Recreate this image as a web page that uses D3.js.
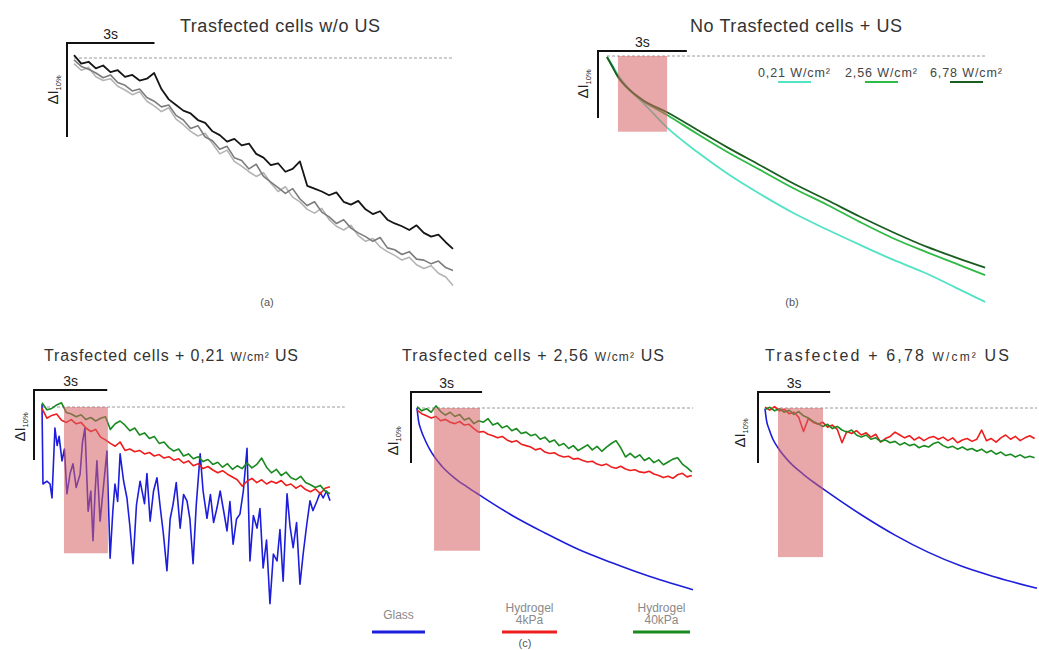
<!DOCTYPE html>
<html><head><meta charset="utf-8">
<script src="https://cdn.jsdelivr.net/npm/d3@7"></script>
<style>body{margin:0;background:#fff}svg{display:block}</style>
</head><body>
<svg id="fig" width="1039" height="650"></svg>
<script>
// ---- data: time in s, ΔI in % (0 = dashed baseline) ----
// (a) transfected cells without US, sampled every 0.25 s
var aStep=0.25;
var aBlack=[0.3,-0.6,-0.4,-1.1,-0.8,-1.5,-1.3,-2.0,-1.8,-2.4,-2.2,-1.6,-3.3,-4.4,-5.0,-5.6,-5.9,-6.6,-6.9,-7.8,-8.2,-8.9,-8.6,-9.3,-9.1,-10.2,-10.6,-11.4,-11.2,-12.1,-11.8,-11.0,-13.6,-13.9,-14.2,-14.6,-14.3,-15.3,-15.6,-15.2,-16.1,-16.6,-16.3,-17.2,-17.6,-17.9,-18.3,-17.8,-18.6,-19.0,-18.8,-19.6,-20.3];
var aGrey=[-0.2,-0.9,-1.2,-1.6,-2.1,-1.8,-2.6,-2.9,-3.5,-3.3,-4.2,-4.6,-5.2,-5.0,-6.1,-6.6,-7.5,-7.2,-8.4,-8.8,-9.7,-9.4,-10.6,-10.9,-11.8,-11.3,-12.6,-13.2,-13.8,-14.4,-13.9,-15.0,-15.7,-15.3,-16.4,-16.9,-17.6,-17.2,-18.1,-18.6,-19.0,-19.5,-19.1,-20.2,-20.4,-20.9,-20.6,-21.4,-21.5,-21.9,-21.6,-22.3,-22.6];
var aLight=[-0.6,-1.3,-1.0,-2.0,-2.4,-2.2,-3.0,-3.4,-3.9,-3.6,-4.6,-5.1,-5.7,-5.3,-6.5,-7.1,-7.8,-8.3,-8.0,-9.1,-10.2,-9.8,-11.0,-11.5,-12.1,-12.6,-12.2,-13.3,-14.2,-13.7,-14.8,-15.3,-16.1,-16.5,-16.0,-17.2,-17.9,-18.3,-17.8,-18.9,-19.5,-19.2,-20.1,-20.6,-21.0,-21.5,-21.2,-22.0,-22.4,-22.1,-22.9,-23.3,-24.2];

// (b) non-transfected cells + US, [t, ΔI]
var bIntensity=['0,21','2,56','6,78'];
var b021=[[0,-0.15],[0.17,-1.3],[0.37,-2.8],[0.78,-5.1],[1.22,-7.0],[2.03,-10.7],[3.04,-14.3],[4.05,-17.5],[5.17,-20.6],[6.28,-23.4],[7.43,-25.9],[8.55,-28.2],[9.66,-30.4],[10.81,-32.5],[11.79,-34.6],[12.77,-36.7]];
var b256=[[0,-0.15],[0.17,-1.5],[0.37,-3.1],[0.78,-5.2],[1.22,-6.7],[2.03,-8.8],[3.04,-11.6],[4.05,-14.3],[5.17,-17.0],[6.28,-19.7],[7.43,-22.2],[8.55,-24.8],[9.66,-27.2],[10.81,-29.3],[11.79,-31.0],[12.77,-32.7]];
var b678=[[0,-0.15],[0.17,-1.5],[0.37,-3.1],[0.78,-5.1],[1.22,-6.6],[2.03,-8.4],[3.04,-11.0],[4.05,-13.6],[5.17,-16.3],[6.28,-19.0],[7.43,-21.5],[8.55,-24.0],[9.66,-26.3],[10.81,-28.5],[11.79,-30.1],[12.77,-31.6]];

// (c) substrates
var cSubstrate=['Glass','Hydrogel|4kPa','Hydrogel|40kPa'];
var cStep=0.2;
var c1Glass=[[0,0.4],[0.04,-11.0],[0.2,-10.6],[0.33,-11.0],[0.41,-13.0],[0.53,-3.0],[0.62,-5.5],[0.7,-4.2],[0.82,-7.7],[0.92,-6.0],[1.02,-12.4],[1.15,-9.5],[1.27,-8.1],[1.4,-11.5],[1.56,-9.6],[1.66,-5.0],[1.76,-3.0],[1.89,-14.9],[2.0,-12.0],[2.09,-19.1],[2.17,-12.5],[2.25,-7.7],[2.38,-16.3],[2.5,-12.0],[2.66,-6.3],[2.79,-21.6],[2.9,-15.0],[2.99,-11.0],[3.1,-13.5],[3.2,-6.7],[3.34,-10.5],[3.48,-13.0],[3.6,-17.0],[3.73,-22.4],[3.87,-14.0],[4.02,-10.6],[4.2,-13.8],[4.3,-9.5],[4.43,-16.3],[4.57,-12.0],[4.71,-10.1],[4.85,-14.5],[4.97,-18.0],[5.12,-23.4],[5.25,-16.0],[5.37,-13.9],[5.5,-10.8],[5.66,-17.3],[5.8,-12.5],[5.94,-13.4],[6.06,-16.0],[6.19,-22.4],[6.32,-14.0],[6.48,-6.7],[6.6,-12.0],[6.76,-15.9],[6.9,-12.5],[7.03,-16.5],[7.17,-14.4],[7.3,-12.0],[7.45,-15.0],[7.58,-17.7],[7.7,-13.5],[7.83,-19.6],[7.97,-16.0],[8.11,-15.3],[8.25,-12.0],[8.4,-5.9],[8.52,-22.0],[8.66,-15.5],[8.81,-17.3],[8.93,-14.5],[9.06,-23.0],[9.2,-19.0],[9.34,-28.1],[9.48,-21.0],[9.63,-22.0],[9.75,-17.5],[9.88,-24.9],[10.04,-12.4],[10.16,-17.0],[10.29,-20.1],[10.43,-16.5],[10.57,-25.3],[10.7,-21.0],[10.84,-17.0],[10.98,-13.4],[11.1,-14.8],[11.27,-13.4],[11.4,-12.2],[11.52,-13.0],[11.66,-12.0],[11.8,-13.4]];
var c1Gel4=[-0.2,-1.6,-1.2,-1.0,-1.9,-2.2,-1.8,-2.4,-2.2,-3.0,-3.5,-3.2,-4.3,-4.7,-5.2,-5.6,-5.0,-6.2,-6.0,-6.4,-6.2,-6.7,-6.5,-7.0,-6.8,-7.3,-7.1,-7.6,-7.4,-8.0,-7.7,-8.4,-8.1,-8.8,-8.5,-9.0,-9.4,-9.1,-9.6,-10.0,-10.4,-11.3,-10.6,-10.2,-10.8,-10.4,-11.0,-10.6,-10.9,-10.5,-11.2,-11.0,-11.6,-11.2,-11.8,-12.1,-11.7,-12.4,-11.6,-11.4];
var c1Gel40=[0.6,-0.4,-0.2,0.3,0.6,-0.8,-1.0,-1.4,-1.1,-1.8,-1.5,-2.0,-1.6,-1.4,-3.2,-2.4,-2.0,-2.6,-3.4,-3.0,-4.0,-3.7,-4.5,-4.2,-5.2,-5.0,-5.8,-6.3,-6.0,-7.0,-6.7,-7.4,-7.1,-7.8,-7.5,-8.2,-7.9,-8.6,-8.1,-8.9,-8.4,-8.8,-8.0,-8.7,-8.2,-7.3,-8.6,-9.4,-8.9,-9.8,-9.3,-10.1,-10.4,-9.9,-10.8,-11.1,-11.5,-11.2,-12.0,-12.4];

var c2Glass=[[0,0],[0.06,-1.7],[0.17,-3.1],[0.34,-4.5],[0.55,-5.9],[1.05,-8.2],[1.6,-9.9],[2.11,-11.1],[2.66,-12.3],[4.0,-15.1],[5.4,-17.6],[6.8,-19.9],[8.23,-21.8],[9.62,-23.5],[11.65,-25.6]];
var c2Gel4=[-0.3,-0.8,-1.1,-1.4,-1.2,-1.8,-1.6,-2.0,-2.2,-1.9,-2.4,-2.3,-2.9,-3.4,-3.3,-3.7,-3.9,-4.2,-4.0,-4.5,-4.8,-4.6,-5.1,-5.3,-5.5,-5.9,-5.7,-6.2,-6.4,-6.3,-6.7,-6.9,-6.8,-7.2,-7.1,-7.4,-7.6,-7.5,-7.9,-8.1,-7.9,-8.3,-8.5,-8.2,-8.6,-8.8,-8.7,-9.0,-9.1,-8.9,-9.3,-9.5,-9.8,-9.6,-9.9,-9.4,-9.2,-9.7,-9.5];
var c2Gel40=[0.2,-0.4,-0.1,-0.6,0.3,-0.5,-1.0,-0.6,-1.2,-0.9,-1.7,-1.4,-2.2,-1.8,-2.0,-1.5,-2.4,-2.1,-2.8,-2.5,-3.2,-2.9,-3.6,-3.4,-3.9,-3.7,-4.4,-4.1,-4.8,-4.5,-5.3,-5.0,-5.7,-5.3,-6.0,-5.6,-5.2,-5.9,-5.4,-6.1,-5.5,-5.0,-4.6,-5.6,-6.9,-6.4,-7.0,-6.6,-7.4,-7.0,-7.7,-7.3,-8.0,-7.6,-7.2,-7.0,-7.9,-8.4,-9.0];

var c3Glass=[[0,-0.1],[0.06,-1.7],[0.17,-3.0],[0.33,-4.4],[0.54,-5.6],[1.04,-7.7],[1.58,-9.3],[2.08,-10.6],[2.41,-11.4],[4.03,-15.1],[5.4,-17.9],[6.77,-20.3],[8.18,-22.3],[9.56,-23.8],[11.3,-25.4]];
var c3Gel4=[0.1,-0.3,0.2,-0.4,-0.2,-0.8,-0.6,-1.3,-3.3,-1.5,-2.0,-2.3,-2.0,-2.7,-2.4,-3.0,-4.9,-3.3,-3.6,-3.2,-3.8,-3.5,-4.1,-3.7,-4.8,-4.3,-4.0,-3.4,-3.8,-4.2,-3.9,-4.5,-4.1,-4.6,-4.2,-4.0,-4.4,-4.1,-4.6,-4.2,-4.9,-4.5,-4.3,-4.7,-4.4,-3.1,-4.6,-4.3,-4.8,-4.2,-3.8,-4.4,-4.0,-4.6,-4.2,-3.9,-4.3];
var c3Gel40=[-0.2,0.1,-0.4,-0.1,-0.6,-0.3,-0.9,-0.5,-1.1,-1.4,-1.9,-2.2,-2.6,-2.3,-2.9,-2.6,-3.1,-3.4,-3.1,-3.8,-4.1,-3.8,-4.4,-4.2,-4.7,-4.5,-4.9,-4.7,-5.2,-4.9,-5.3,-5.1,-5.6,-5.3,-5.5,-5.0,-4.8,-5.3,-5.6,-5.4,-5.8,-5.5,-5.9,-5.7,-6.1,-5.8,-6.3,-6.0,-6.5,-6.2,-6.7,-6.5,-6.9,-6.6,-7.0,-6.8,-7.0];

// ultrasound windows [start s, end s, lower ΔI %]
var bStim=[0.37,2.03,-11.3];
var c1Stim=[0.9,2.7,-20.9];
var c2Stim=[0.72,2.66,-20.1];
var c3Stim=[0.54,2.41,-21.0];

function grid(vals,dt){return vals.map(function(v,i){return [i*dt,v]})}

var F='"Liberation Sans",Arial,sans-serif';
var C={blue:'#1d1ddc',red:'#ee1e1e',green:'#198a20',black:'#151515',grey:'#7c7c7c',light:'#b4b4b4',
  teal:'#52e2c4',mid:'#2fba45',dark:'#1b5d20',txt:'#333',pink:'rgb(214,96,100)'};
var svg=d3.select('#fig');

function panel(P){
  var x=d3.scaleLinear().domain([0,P.tMax]).range([P.x0,P.x1]);
  var y=d3.scaleLinear().domain([0,-10]).range([P.yBase,P.yBase+10*P.ppp]);
  var g=svg.append('g');
  // dashed baseline
  g.append('line').attr('x1',x(0)).attr('x2',x(P.dashTo)).attr('y1',y(0)).attr('y2',y(0))
    .attr('stroke','#9a9a9a').attr('stroke-width',1).attr('stroke-dasharray','3 2');
  P.traces.forEach(function(tr){
    var ln=d3.line().x(function(d){return x(d[0])}).y(function(d){return y(d[1])}).curve(tr.smooth?d3.curveMonotoneX:d3.curveLinear);
    g.append('path').datum(tr.pts).attr('d',ln).attr('fill','none').attr('stroke',tr.color)
      .attr('stroke-width',tr.w||1.6).attr('stroke-linejoin','round');
  });
  if(P.stim){
    g.append('rect').attr('x',x(P.stim[0])).attr('y',y(0)).attr('width',x(P.stim[1])-x(P.stim[0]))
      .attr('height',y(P.stim[2])-y(0)).attr('fill',C.pink).attr('opacity',0.55);
  }
  // scale bars: 3 s horizontal, 10 % vertical
  var bw=x(3)-x(0), bh=y(-10)-y(0);
  g.append('path').attr('d','M'+(P.axisX+bw)+','+P.barY+'H'+P.axisX+'V'+(P.barY+bh))
    .attr('fill','none').attr('stroke','#111').attr('stroke-width',2);
  g.append('text').attr('x',P.axisX+bw/2).attr('y',P.barY-4).attr('text-anchor','middle')
    .attr('font-family',F).attr('font-size',14).attr('fill','#222').text('3s');
  var yl=g.append('text').attr('transform','translate('+P.ylX+','+P.ylY+') rotate(-90)')
    .attr('text-anchor','middle').attr('font-family',F).attr('fill','#222');
  yl.append('tspan').attr('font-size',15).text('ΔI');
  yl.append('tspan').attr('font-size',7.5).attr('dy',3).text('10%');
  // title
  var t=g.append('text').attr('x',P.titleX).attr('y',P.titleY).attr('text-anchor',P.titleAnchor||'middle')
    .attr('font-family',F).attr('fill',C.txt);
  P.title.forEach(function(s){t.append('tspan').attr('font-size',s[1]||P.titleSize).text(s[0])});
  if(P.titleLen)t.attr('textLength',P.titleLen).attr('lengthAdjust','spacing');
  return {x:x,y:y,g:g};
}

// (a)
panel({tMax:13,x0:74,x1:453,yBase:58,ppp:9.4,dashTo:13,axisX:67,barY:43,ylX:58,ylY:90,
  title:[['Trasfected cells w/o US']],titleSize:18,titleX:280,titleY:32,titleLen:200,
  traces:[{pts:grid(aLight,aStep),color:C.light,w:1.6},{pts:grid(aGrey,aStep),color:C.grey,w:1.6},{pts:grid(aBlack,aStep),color:C.black,w:1.8}]});
// (b)
panel({tMax:12.8,x0:607,x1:986,yBase:56,ppp:6.7,dashTo:12.8,axisX:598,barY:51,ylX:588,ylY:84,
  title:[['No Trasfected cells + US']],titleSize:18,titleX:796,titleY:32,titleLen:212,stim:bStim,
  traces:[{pts:b021,color:C.teal,w:1.8,smooth:1},{pts:b256,color:C.mid,w:1.8,smooth:1},{pts:b678,color:C.dark,w:1.8,smooth:1}]});
// (b) legend
var bCols=[C.teal,C.mid,C.dark], bLegX=[758,845,930];
bIntensity.forEach(function(s,i){
  svg.append('text').attr('x',bLegX[i]).attr('y',77).attr('font-family',F).attr('font-size',12.5).attr('fill','#444')
    .attr('textLength',72).attr('lengthAdjust','spacing').text(s+' W/cm²');
  svg.append('line').attr('x1',bLegX[i]+20).attr('x2',bLegX[i]+53).attr('y1',82).attr('y2',82).attr('stroke',bCols[i]).attr('stroke-width',2);
});
// (c)
panel({tMax:11.8,x0:42,x1:330,yBase:407,ppp:7,dashTo:12.4,axisX:34,barY:390,ylX:25,ylY:427,stim:c1Stim,
  title:[['Trasfected cells + 0,21 '],['W/cm²',12],[' US']],titleSize:16,titleX:44,titleY:361,titleAnchor:'start',titleLen:254,
  traces:[{pts:c1Glass,color:C.blue,w:1.6},{pts:grid(c1Gel4,cStep),color:C.red,w:1.6},{pts:grid(c1Gel40,cStep),color:C.green,w:1.6}]});
panel({tMax:11.65,x0:417,x1:693,yBase:408,ppp:7.1,dashTo:11.65,axisX:411,barY:392,ylX:398,ylY:441,stim:c2Stim,
  title:[['Trasfected cells + 2,56 '],['W/cm²',12],[' US']],titleSize:16,titleX:402,titleY:361,titleAnchor:'start',titleLen:262,
  traces:[{pts:c2Glass,color:C.blue,w:1.6,smooth:1},{pts:grid(c2Gel4,cStep),color:C.red,w:1.6},{pts:grid(c2Gel40,cStep),color:C.green,w:1.6}]});
panel({tMax:11.3,x0:765,x1:1037,yBase:408,ppp:7.1,dashTo:11.3,axisX:758,barY:392,ylX:745,ylY:433,stim:c3Stim,
  title:[['Trasfected + 6,78 '],['W/cm²',12],[' US']],titleSize:16,titleX:765,titleY:361,titleAnchor:'start',titleLen:244,
  traces:[{pts:c3Glass,color:C.blue,w:1.6,smooth:1},{pts:grid(c3Gel4,cStep),color:C.red,w:1.6},{pts:grid(c3Gel40,cStep),color:C.green,w:1.6}]});

// (c) legend
var cCols=[C.blue,C.red,C.green], cLegX=[372,502,633], cLegW=[53,55,57];
cSubstrate.forEach(function(s,i){
  var parts=s.split('|'), cx=cLegX[i]+cLegW[i]/2;
  var t=svg.append('text').attr('x',cx).attr('text-anchor','middle').attr('font-family',F).attr('font-size',12).attr('fill','#8a8a8a')
    .attr('y',parts.length>1?612:619);
  parts.forEach(function(p,j){t.append('tspan').attr('x',cx).attr('dy',j?12:0).text(p)});
  svg.append('line').attr('x1',cLegX[i]).attr('x2',cLegX[i]+cLegW[i]).attr('y1',632).attr('y2',632).attr('stroke',cCols[i]).attr('stroke-width',3);
});

// panel letters
[['(a)',267,306],['(b)',792,306],['(c)',525,647]].forEach(function(d){
  svg.append('text').attr('x',d[1]).attr('y',d[2]).attr('text-anchor','middle').attr('font-family',F).attr('font-size',11).attr('fill','#555').text(d[0]);
});
</script>
</body></html>
